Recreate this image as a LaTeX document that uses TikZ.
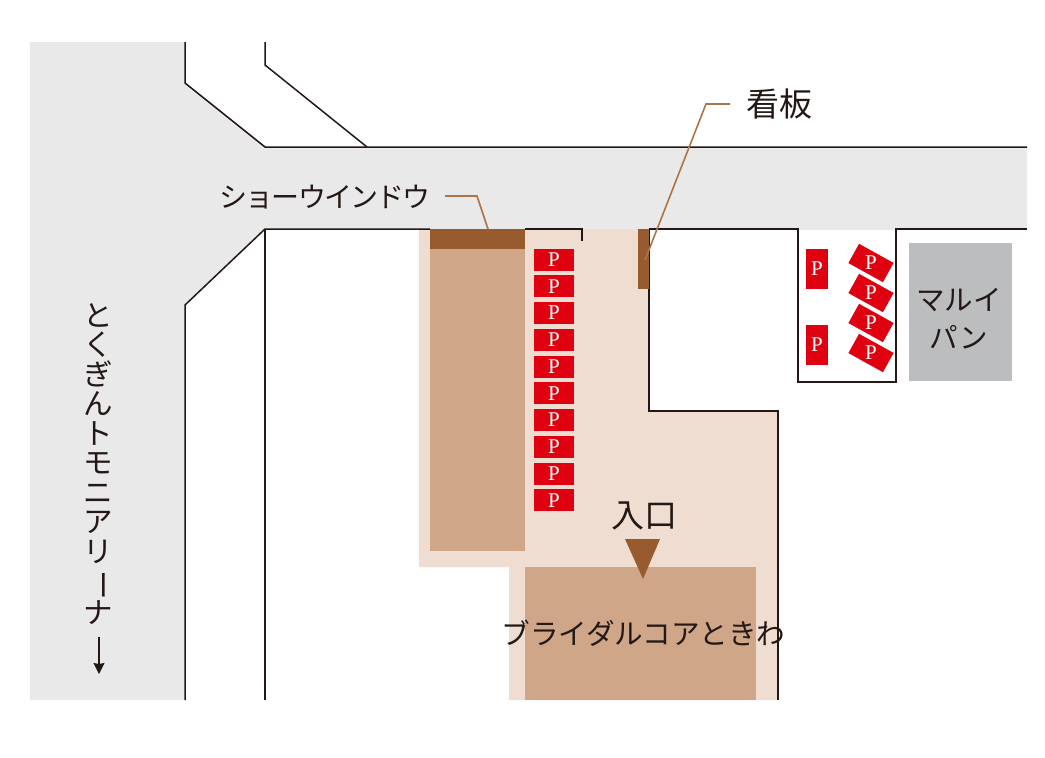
\documentclass[tikz,border=0pt]{standalone}
\usepackage{fontspec}
\usetikzlibrary{arrows.meta}
\setmainfont{Liberation Serif}
\newfontfamily\cjk{Noto Sans CJK JP}
\newfontfamily\cjktight[LetterSpace=-7]{Noto Sans CJK JP}
\definecolor{road}{HTML}{E9E9EA}
\definecolor{site}{HTML}{EEDDD0}
\definecolor{bldg}{HTML}{CFA788}
\definecolor{accent}{HTML}{985A2F}
\definecolor{leadc}{HTML}{AC7549}
\definecolor{pred}{HTML}{DF0010}
\definecolor{pan}{HTML}{BCBDBF}
\definecolor{ink}{HTML}{231815}
\tikzset{
  wall/.style={draw=ink,line width=1.5pt,line join=miter},
  leader/.style={draw=leadc,line width=1.6pt},
  pslot/.style={fill=pred,inner sep=0pt,minimum width=40pt,minimum height=22pt},
  pslotv/.style={fill=pred,inner sep=0pt,minimum width=22pt,minimum height=40pt},
  pslotr/.style={fill=pred,inner sep=0pt,minimum width=39.5pt,minimum height=22pt,rotate=-29},
  ptext/.style={text=white,inner sep=0pt,font=\fontsize{21}{21}\selectfont},
  label/.style={text=ink,inner sep=0pt,align=center},
}
\begin{document}
\begin{tikzpicture}[x=1pt,y=-1pt]
\useasboundingbox (0,0) rectangle (1045,758);
% road
\fill[road] (30,42) -- (185,42) -- (185,83) -- (265,147) -- (1027,147) -- (1027,229) -- (896,229) -- (896,230) -- (798,230) -- (798,229) -- (265,229) -- (185,305) -- (185,700) -- (30,700) -- cycle;
% site
\fill[site] (419,229) -- (649,229) -- (649,411) -- (778,411) -- (778,700) -- (509,700) -- (509,567) -- (419,567) -- cycle;
\fill[bldg] (430,249) rectangle (525,551);
\fill[bldg] (525,567) rectangle (756,700);
\fill[accent] (430,229) rectangle (525,249);
% walls
\draw[wall] (185,42) -- (185,83) -- (265,147) -- (1027,147);
\draw[wall] (265,42) -- (265,65) -- (367,147);
\draw[wall] (185,700) -- (185,305) -- (265,229) -- (430,229);
\draw[wall] (525,229) -- (582,229) -- (582,241);
\draw[wall] (265,229) -- (265,700);
\draw[wall] (649,229) -- (649,411) -- (778,411) -- (778,700);
\draw[wall] (649,229) -- (798,229) -- (798,382) -- (896,382) -- (896,229) -- (1027,229);
% sign
\fill[accent] (638,229) rectangle (649,289);
% Pan shop
\fill[pan] (909,243) rectangle (1012,381);
% parking column
\foreach \i in {0,...,9}{
  \node[pslot] (p\i) at (554,{259.5+\i*26.75}) {};
  \node[ptext] at (p\i) {P};
}
\node[pslotv] (q0) at (817,269) {};
\node[ptext] at (q0) {P};
\node[pslotv] (q1) at (817,345) {};
\node[ptext] at (q1) {P};
\foreach \i/\y in {0/263,1/293,2/323,3/353}{
  \node[pslotr] (r\i) at (871,\y) {};
  \node[ptext] at (r\i) {P};
}
% entrance
\fill[accent] (625,539) -- (660,539) -- (643,579) -- cycle;
% labels
\node[label,font=\cjktight\fontsize{28}{28}\selectfont] (show) at (325,197) {ショーウインドウ};
\node[label,font=\cjk\fontsize{33}{33}\selectfont] (kanban) at (779,104) {看板};
\node[label,font=\cjk\fontsize{33}{33}\selectfont] (iriguchi) at (644,516) {入口};
\node[label,font=\cjk\fontsize{28.6}{28.6}\selectfont] (toki) at (643.5,633) {ブライダルコアときわ};
\node[label,font=\cjk\fontsize{28.5}{38}\selectfont] (maru) at (959,319) {マルイ\\パン};
\node[label,font=\cjk\fontsize{29.5}{29.5}\selectfont,anchor=north] (road1) at (98.5,303) {と\\く\\ぎ\\ん\\ト\\モ\\ニ\\ア\\リ\\\rotatebox[origin=c]{-90}{ー}\\ナ};
% leaders
\coordinate (showa) at (445,196);
\coordinate (showb) at (477,196);
\coordinate (showc) at (488,229);
\draw[leader] (showa) -- (showb) -- (showc);
\coordinate (kana) at (730,104);
\coordinate (kanb) at (706,104);
\coordinate (kanc) at (645,260);
\draw[leader] (kana) -- (kanb) -- (kanc);
% direction arrow
\coordinate (arra) at (99,637);
\coordinate (arrb) at (99,674);
\draw[draw=ink,line width=1.4pt,-{Stealth[length=11pt,width=11pt,inset=1pt]}] (arra) -- (arrb);
\end{tikzpicture}
\end{document}
